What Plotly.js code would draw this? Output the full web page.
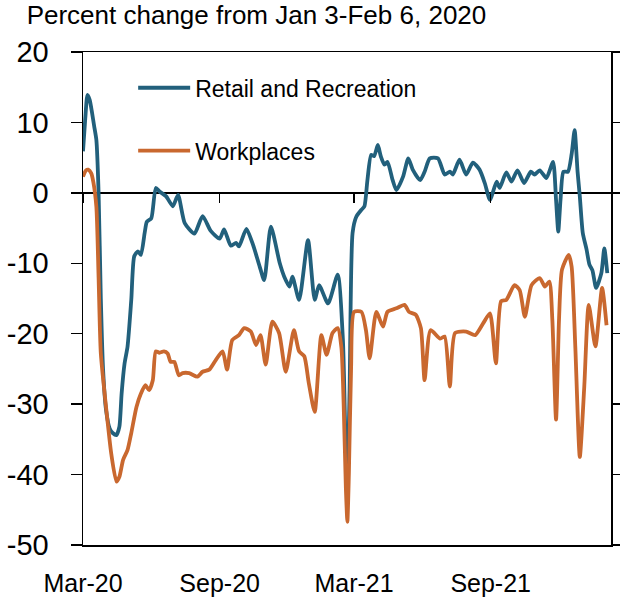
<!DOCTYPE html>
<html>
<head>
<meta charset="utf-8">
<script src="https://cdn.plot.ly/plotly-3.0.1.min.js"></script>
<style>html,body{margin:0;padding:0;background:#fff;}#chart{width:620px;height:602px;}</style>
</head>
<body>
<div id="chart"></div>
<script>
const retailDates = ["2020-03-01","2020-03-04","2020-03-07","2020-03-10","2020-03-13","2020-03-16","2020-03-19","2020-03-22","2020-03-25","2020-03-28","2020-04-01","2020-04-06","2020-04-10","2020-04-15","2020-04-19","2020-04-22","2020-04-26","2020-04-30","2020-05-05","2020-05-09","2020-05-14","2020-05-18","2020-05-23","2020-05-26","2020-06-01","2020-06-07","2020-06-12","2020-06-21","2020-06-30","2020-07-07","2020-07-16","2020-07-29","2020-08-09","2020-08-20","2020-09-01","2020-09-07","2020-09-16","2020-09-23","2020-09-27","2020-10-07","2020-10-16","2020-10-25","2020-10-31","2020-11-09","2020-11-21","2020-11-27","2020-12-04","2020-12-08","2020-12-17","2020-12-29","2021-01-07","2021-01-13","2021-01-25","2021-02-07","2021-02-14","2021-02-17","2021-02-20","2021-02-23","2021-02-27","2021-03-04","2021-03-11","2021-03-15","2021-03-19","2021-03-24","2021-03-28","2021-04-02","2021-04-06","2021-04-11","2021-04-15","2021-04-22","2021-04-27","2021-05-06","2021-05-13","2021-05-19","2021-05-29","2021-06-04","2021-06-11","2021-06-22","2021-07-01","2021-07-08","2021-07-12","2021-07-21","2021-07-30","2021-08-08","2021-08-17","2021-08-24","2021-08-31","2021-09-09","2021-09-13","2021-09-22","2021-09-29","2021-10-07","2021-10-16","2021-10-25","2021-10-30","2021-11-06","2021-11-15","2021-11-24","2021-11-28","2021-12-01","2021-12-04","2021-12-08","2021-12-14","2021-12-19","2021-12-23","2021-12-27","2021-12-30","2022-01-03","2022-01-08","2022-01-12","2022-01-16","2022-01-21","2022-01-28","2022-02-01","2022-02-05"];
const retailValues = [5.9,10.5,13.9,13.2,11.5,9.5,7.5,0,-15,-25,-30.8,-33.5,-34.1,-34.4,-33.2,-28.5,-24.2,-21.8,-15.2,-9.0,-8.3,-8.8,-5.7,-4.1,-3.6,0.7,0.2,-0.5,-1.9,-0.3,-4.3,-5.8,-3.3,-5.4,-6.5,-5.2,-7.5,-7.1,-7.6,-5.1,-7.4,-10.5,-12.4,-4.8,-10,-11.9,-13.3,-11.9,-15.2,-6.7,-15.2,-13.1,-15.7,-11.6,-20.9,-33,-41,-28,-5.7,-3.4,-2.4,-1.9,1.8,5.4,5.2,6.8,5.2,4.0,4.4,1.8,0.4,2.3,4.9,3.3,1.8,3.0,4.9,4.9,2.6,3.0,2.6,4.7,2.6,4.3,3.3,1.4,-1.0,1.6,0.7,2.9,1.6,3.2,1.4,3.0,2.6,3.2,2.1,4.4,-1,-5.5,-1,3.0,3.0,5.5,8.9,3,-0.5,-5.7,-8,-10.2,-11,-13.5,-11.4,-7.9,-11.4];

const workDates = ["2020-03-01","2020-03-05","2020-03-08","2020-03-12","2020-03-15","2020-03-19","2020-03-22","2020-03-25","2020-04-01","2020-04-08","2020-04-15","2020-04-19","2020-04-24","2020-04-30","2020-05-05","2020-05-12","2020-05-18","2020-05-24","2020-05-29","2020-06-03","2020-06-07","2020-06-12","2020-06-18","2020-06-23","2020-06-27","2020-07-02","2020-07-08","2020-07-13","2020-07-22","2020-08-02","2020-08-09","2020-08-18","2020-08-27","2020-09-05","2020-09-11","2020-09-18","2020-09-27","2020-10-04","2020-10-13","2020-10-20","2020-10-26","2020-11-02","2020-11-11","2020-11-20","2020-11-29","2020-12-10","2020-12-17","2020-12-24","2020-12-30","2021-01-07","2021-01-16","2021-01-23","2021-01-31","2021-02-07","2021-02-12","2021-02-15","2021-02-18","2021-02-20","2021-02-22","2021-02-25","2021-03-01","2021-03-11","2021-03-17","2021-03-22","2021-03-31","2021-04-09","2021-04-15","2021-04-27","2021-05-08","2021-05-14","2021-05-23","2021-05-30","2021-06-04","2021-06-12","2021-06-25","2021-07-01","2021-07-08","2021-07-15","2021-07-30","2021-08-11","2021-08-22","2021-08-31","2021-09-08","2021-09-15","2021-09-22","2021-10-03","2021-10-10","2021-10-17","2021-10-26","2021-11-06","2021-11-13","2021-11-19","2021-11-23","2021-11-28","2021-12-02","2021-12-06","2021-12-15","2021-12-19","2021-12-24","2021-12-30","2022-01-05","2022-01-11","2022-01-20","2022-01-29","2022-02-04"];
const workValues = [2.3,3.2,3.3,2.8,1.5,-2,-12,-22.8,-30.4,-37,-41,-40.3,-37.9,-36.5,-34.1,-30.4,-28.5,-27.3,-28,-26.6,-22.5,-22.7,-22.5,-22.8,-24,-24,-25.9,-25.6,-25.6,-26.1,-25.4,-25.1,-23.7,-22.5,-25.1,-20.9,-20.2,-19.2,-19.7,-21.6,-20.2,-24.4,-18.3,-19.9,-25.4,-19.5,-22.5,-23.2,-27,-31.1,-20.2,-23,-19.9,-19.2,-22,-30,-42,-46.7,-40,-25,-16.9,-16.9,-19.5,-23.5,-16.9,-19,-16.9,-16.4,-15.9,-16.9,-17.3,-19.2,-26.6,-19.5,-20.7,-20.4,-27.5,-19.9,-19.7,-20.2,-18.5,-17.1,-24.2,-15.4,-15.2,-13.1,-13.8,-17.6,-13.1,-12.1,-13.3,-12.6,-18,-32.2,-18,-10.9,-8.8,-10.5,-22,-37.5,-27.5,-15.9,-21.8,-13.5,-18.8];

const seriesNames = ["Retail and Recreation","Workplaces"];
const seriesColors = ["#22607c","#c9682f"];
const xRange = ["2020-03-01","2022-02-10"];
const yTicks = [20,10,0,-10,-20,-30,-40,-50];
const yTickLabels = ["20","10","0","-10","-20","-30","-40","-50"];

const FONT = "'Liberation Sans', Arial, sans-serif";

const traces = [
  {x: retailDates, y: retailValues, name: seriesNames[0], type: "scatter", mode: "lines",
   line: {color: seriesColors[0], width: 3.8, shape: "spline", smoothing: 0.6}, legendgroup: "a"},
  {x: workDates, y: workValues, name: seriesNames[1], type: "scatter", mode: "lines",
   line: {color: seriesColors[1], width: 3.8, shape: "spline", smoothing: 0.6}, legendgroup: "b"},
  {x: xRange, y: [null, null], xaxis: "x2", yaxis: "y", showlegend: false, hoverinfo: "skip", mode: "lines"}
];

const layout = {
  width: 620, height: 602,
  margin: {l: 83, r: 9, t: 52, b: 57},
  paper_bgcolor: "#fff", plot_bgcolor: "#fff",
  font: {family: FONT, color: "#000", size: 25},
  title: {text: "Percent change from Jan 3-Feb 6, 2020", font: {family: FONT, size: 26, color: "#000"},
          x: 0.043, xref: "container", xanchor: "left", y: 0.99, yref: "container", yanchor: "top"},
  showlegend: true,
  legend: {x: 0.095, y: 0.971, xanchor: "left", yanchor: "top", bgcolor: "rgba(0,0,0,0)",
           font: {family: FONT, size: 23, color: "#000"}, tracegroupgap: 30, itemwidth: 52},
  xaxis: {type: "date", range: xRange, showgrid: false, zeroline: false,
          showline: true, linecolor: "#000", linewidth: 1.5, mirror: true,
          tick0: "2020-03-01", dtick: "M6", tickformat: "%b-%y",
          ticks: "outside", ticklen: 0, ticklabelstandoff: 15,
          tickfont: {family: FONT, size: 25, color: "#000"}},
  xaxis2: {type: "date", range: xRange, overlaying: "x", anchor: "free", position: 50/70,
           showgrid: false, zeroline: false, showline: false, showticklabels: false,
           tick0: "2020-03-01", dtick: "M6", ticks: "outside", ticklen: 9, tickwidth: 1.5, tickcolor: "#000"},
  yaxis: {range: [-50, 20], tickvals: yTicks, ticktext: yTickLabels, showgrid: false,
          zeroline: true, zerolinecolor: "#000", zerolinewidth: 1.5,
          showline: true, linecolor: "#000", linewidth: 1.5, mirror: "ticks",
          ticks: "outside", ticklen: 11, tickwidth: 1.5, tickcolor: "#000", ticklabelstandoff: 16,
          tickfont: {family: FONT, size: 29, color: "#000"}}
};

Plotly.newPlot("chart", traces, layout, {staticPlot: true, displayModeBar: false});
</script>
</body>
</html>
